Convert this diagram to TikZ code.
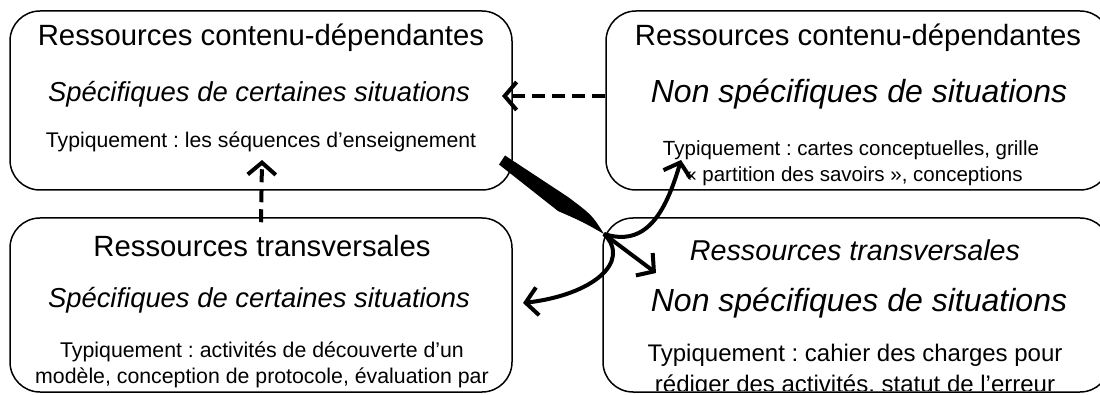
\documentclass[tikz,border=0pt]{standalone}
\usepackage{fontspec}
\setmainfont{Liberation Sans}
\usetikzlibrary{arrows.meta}

\tikzset{
  boite/.style={draw,line width=1.5pt,rounded corners=30pt,inner sep=0pt},
  titre/.style={font=\fontsize{29.3}{31}\selectfont,inner sep=0pt},
  sstitre/.style={font=\fontsize{#1}{#1}\selectfont\itshape,inner sep=0pt},
  detail/.style={font=\fontsize{#1}{#1}\selectfont\frenchspacing,inner sep=0pt},
  fleche/.style={line width=4pt,-{Straight Barb[length=12pt,width=28pt]}},
  tirets/.style={fleche,dash pattern=on 13pt off 7pt},
}

\begin{document}
\begin{tikzpicture}[x=1pt,y=-1pt]
  \clip (0,0) rectangle (1100,395);
  % les quatre boites
  \node[boite,minimum width=502pt,minimum height=179pt] (rcs) at (261,100.5) {};
  \node[boite,minimum width=504pt,minimum height=179pt] (rcn) at (858,100.5) {};
  \node[boite,minimum width=502pt,minimum height=174pt] (rts) at (261,305) {};
  \node[boite,minimum width=507pt,minimum height=174pt] (rtn) at (856.5,305) {};

  % textes
  \node[titre] (rcs1) at (261,38) {Ressources contenu-dépendantes};
  \node[sstitre=27.4] (rcs2) at (259,94) {Spécifiques de certaines situations};
  \node[detail=21.2] (rcs3) at (261,142) {Typiquement : les séquences d’enseignement};

  \node[titre] (rcn1) at (858,38) {Ressources contenu-dépendantes};
  \node[sstitre=32] (rcn2) at (859,94) {Non spécifiques de situations};
  \node[detail=20.5] (rcn3) at (851,150) {Typiquement : cartes conceptuelles, grille};
  \node[detail=20.5] (rcn4) at (854,176) {« partition des savoirs », conceptions};

  \node[titre] (rts1) at (262,246) {Ressources transversales};
  \node[sstitre=27.4] (rts2) at (259,300) {Spécifiques de certaines situations};
  \node[detail=21.3] (rts3) at (262,352) {Typiquement : activités de découverte d’un};
  \node[detail=21.3] (rts4) at (262,378) {modèle, conception de protocole, évaluation par};

  \node[sstitre=28.7] (rtn1) at (855,250) {Ressources transversales};
  \node[sstitre=32] (rtn2) at (859,303) {Non spécifiques de situations};
  \begin{scope}
    \clip (603,218) rectangle (1110,390);
    \node[detail=24] (rtn3) at (855,355) {Typiquement : cahier des charges pour};
    \node[detail=24] (rtn4) at (855,386) {rédiger des activités, statut de l’erreur};
  \end{scope}

  % fleches en tirets
  \coordinate (bout1) at (502,96);
  \coordinate (bout2) at (262,160);
  \draw[tirets] (rcn.west |- bout1) -- (bout1);
  \draw[tirets] ([yshift=-5pt]rts.north) -- (bout2);

  % le faisceau central
  \coordinate (pivot) at (604,234);
  \coordinate (bout3) at (681,160);
  \coordinate (bout4) at (656,273);
  \coordinate (bout5) at (523,303);
  \fill (505,155.5) -- (568,197) .. controls (592,215) .. (pivot)
        .. controls (583,222) .. (558,211) -- (499,164.5) -- cycle;
  \draw[fleche] (pivot) .. controls (645,247) and (665,215) .. (bout3);
  \draw[fleche] (pivot) -- (bout4);
  \draw[fleche] (pivot) .. controls (632,262) and (592,295) .. (bout5);
\end{tikzpicture}
\end{document}
